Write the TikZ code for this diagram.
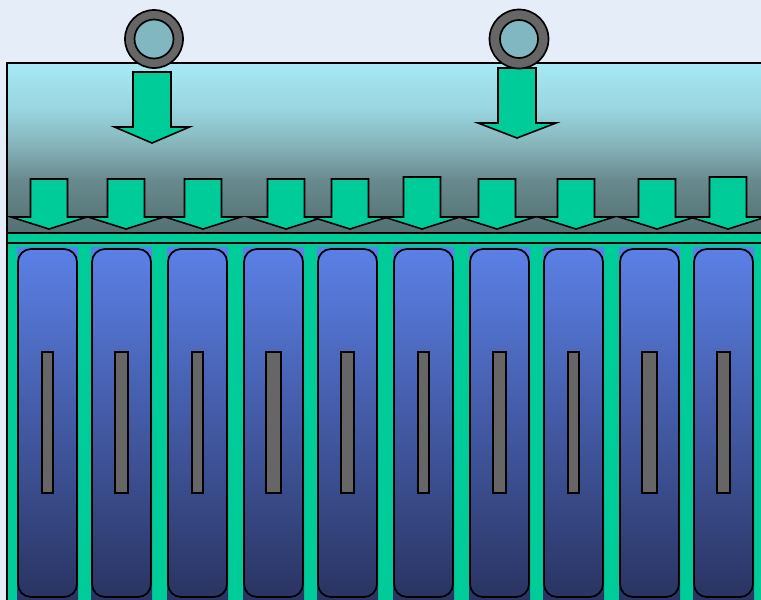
\documentclass[tikz,border=0pt]{standalone}
\usetikzlibrary{positioning}
\definecolor{frost}{HTML}{E4EDF8}
\definecolor{mint}{HTML}{00CC99}
\definecolor{tanktop}{HTML}{A6E9F5}
\definecolor{tankhi}{HTML}{98D5DF}
\definecolor{tankmid}{HTML}{86B3BA}
\definecolor{tanklo}{HTML}{688A8E}
\definecolor{tankbot}{HTML}{537073}
\definecolor{platetop}{HTML}{5B80E6}
\definecolor{platebot}{HTML}{2A3462}
\definecolor{ringgray}{HTML}{666666}
\definecolor{eye}{HTML}{80B7C0}

\pgfdeclareverticalshading{tankfade}{100bp}{%
  color(0bp)=(tankbot); color(25bp)=(tankbot); color(40.6bp)=(tanklo);
  color(50.9bp)=(tankmid); color(61.2bp)=(tankhi); color(75bp)=(tanktop);
  color(100bp)=(tanktop)}

% tip x, shaft top, head base, tip y, shaft half width, head half width
\newcommand\feedarrow[6]{%
  \draw[arw] (#1-#5,#2) -- (#1+#5,#2) -- (#1+#5,#3) -- (#1+#6,#3)
    -- (#1,#4) -- (#1-#6,#3) -- (#1-#5,#3) -- cycle;}

\begin{document}
\begin{tikzpicture}[
  x=1pt, y=-1pt,
  edge/.style={draw=black, line width=1.8pt},
  tank/.style={edge, shading=tankfade},
  arw/.style={fill=mint, draw=black, line width=1.6pt, line join=miter},
  plate/.style={top color=platetop, bottom color=platebot},
  slot/.style={fill=ringgray, draw=black, line width=1.5pt},
  ring/.style={fill=ringgray, draw=black, line width=1.7pt},
  eyehole/.style={fill=eye, draw=black, line width=1.7pt}
]
\useasboundingbox (0,0) rectangle (761,600);
\clip (0,0) rectangle (761,600);
\fill[frost] (0,0) rectangle (761,600);

% tank body
\shade[tank] (7,63) rectangle (775,233);
\fill[mint] (7,233) rectangle (775,610);
\draw[edge] (7,233) rectangle (775,243);
\draw[edge] (7,243) rectangle (775,610);

% plates with slots
\foreach \px/\sw in {18/11, 92/13, 168/11, 244/15, 318/13,
                     394/11, 470/13, 544/11, 620/15, 694/13} {
  \shade[plate] (\px-1,247) rectangle (\px+60,600);
  \shade[plate, draw=black, line width=1.7pt, rounded corners=13pt]
    (\px,249) rectangle (\px+59,597);
  \draw[slot] (\px+29.5-\sw/2,352) rectangle (\px+29.5+\sw/2,493);
}

% small feed arrows
\foreach \tx/\ty in {49/179, 126/179, 203/179, 286/179, 350/179,
                     422/177, 497/179, 576/179, 657/179, 728/177} {
  \feedarrow{\tx}{\ty}{217}{229}{18.5}{38}
}

% inlet arrows
\feedarrow{152}{72}{127}{143}{19}{37.5}
\feedarrow{517}{68}{123}{138}{19}{39}

% inlets
\filldraw[ring] (154,39) circle (29);
\filldraw[eyehole] (154,39) circle (19.5);
\filldraw[ring] (519,39) circle (29.5);
\filldraw[eyehole] (519,39) circle (19);
\end{tikzpicture}
\end{document}
